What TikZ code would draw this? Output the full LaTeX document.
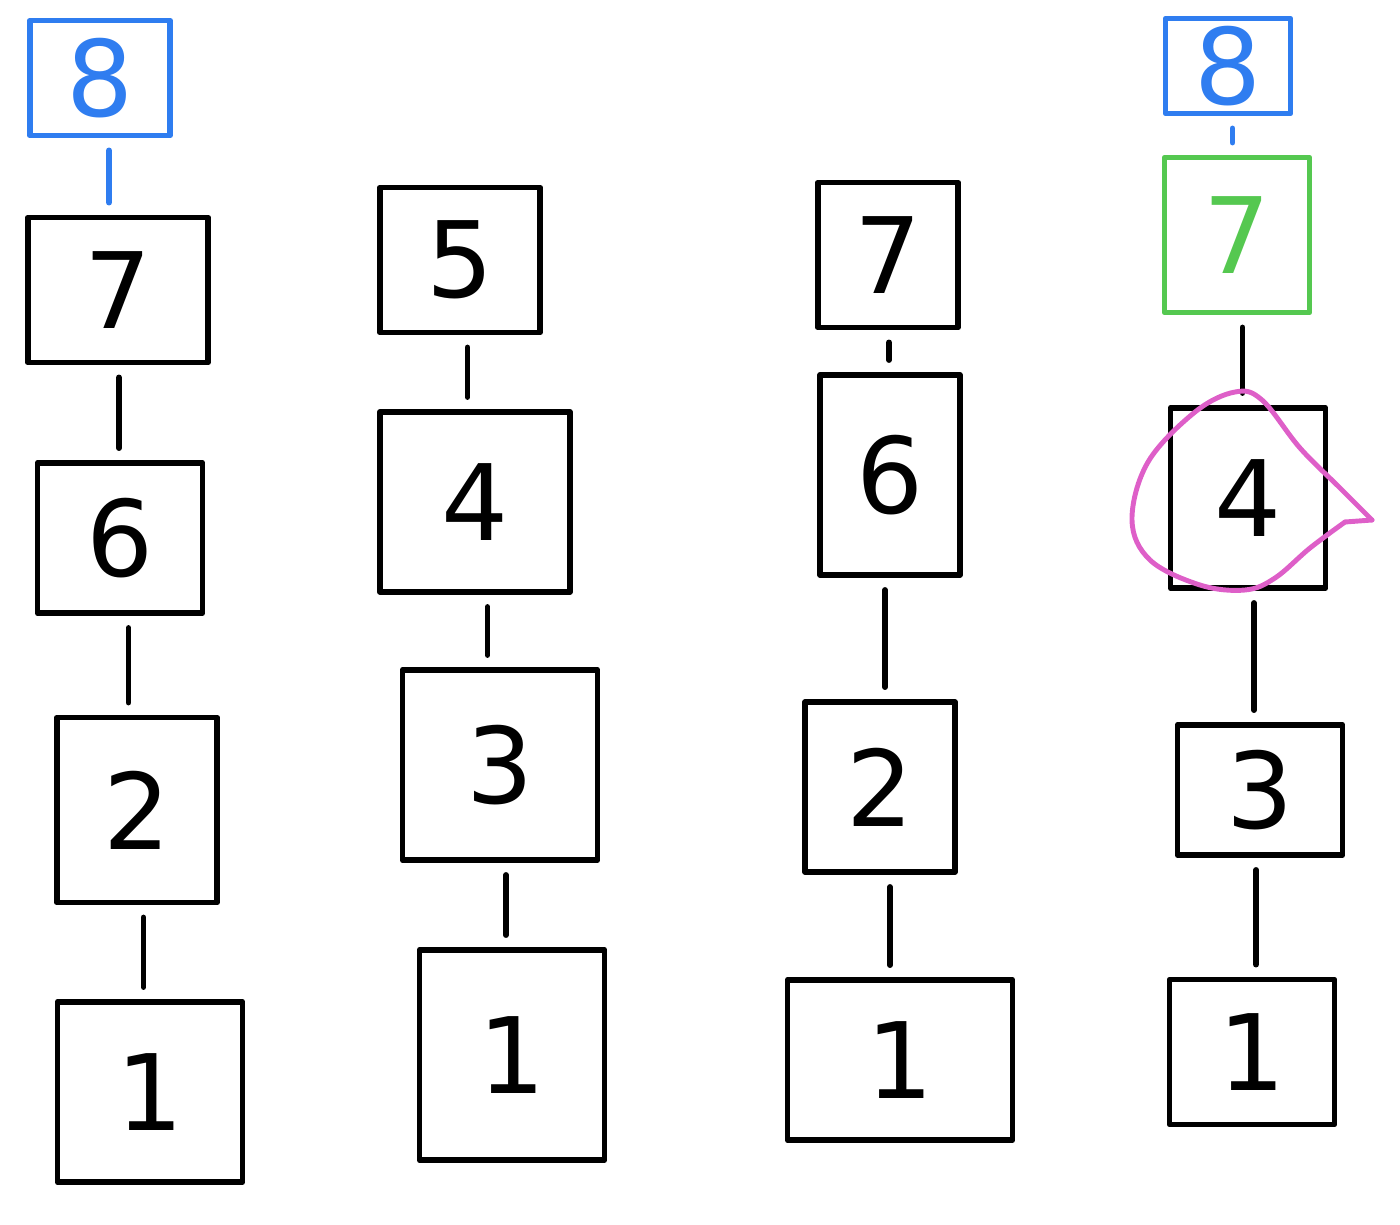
\documentclass[tikz,border=0pt]{standalone}
\usepackage{fontspec}
\setmainfont{DejaVu Sans}
\usetikzlibrary{positioning, calc}
\definecolor{penblue}{RGB}{47,125,240}
\definecolor{pengreen}{RGB}{85,200,80}
\definecolor{penpink}{RGB}{222,95,200}

\begin{document}
\begin{tikzpicture}[
    x=0.01cm, y=-0.01cm,
    box/.style={draw, rectangle, line width=1.6pt, line join=round, inner sep=0pt, font=\fontsize{30}{30}\selectfont},
    link/.style={line width=1.6pt, line cap=round, shorten <=0.12cm, shorten >=0.12cm},
    ring/.style={draw=penpink, line width=1.4pt, line cap=round, line join=round}
]
\useasboundingbox (0,0) rectangle (1400,1224);

% First column
\node[box, draw=penblue, text=penblue, minimum width=1.4cm, minimum height=1.15cm] (a8) at (100,78) {8};
\node[box, minimum width=1.8cm, minimum height=1.45cm] (a7) at (118,290) {7};
\node[box, minimum width=1.65cm, minimum height=1.5cm] (a6) at (120,538) {6};
\node[box, minimum width=1.6cm, minimum height=1.85cm] (a2) at (137,810) {2};
\node[box, minimum width=1.85cm, minimum height=1.8cm] (a1) at (150,1092) {1};

% Second column
\node[box, minimum width=1.6cm, minimum height=1.45cm] (b5) at (460,260) {5};
\node[box, minimum width=1.9cm, minimum height=1.8cm] (b4) at (475,502) {4};
\node[box, minimum width=1.95cm, minimum height=1.9cm] (b3) at (500,765) {3};
\node[box, minimum width=1.85cm, minimum height=2.1cm] (b1) at (512,1055) {1};

% Third column
\node[box, minimum width=1.4cm, minimum height=1.45cm] (c7) at (888,255) {7};
\node[box, minimum width=1.4cm, minimum height=2.0cm] (c6) at (890,475) {6};
\node[box, minimum width=1.5cm, minimum height=1.7cm] (c2) at (880,787) {2};
\node[box, minimum width=2.25cm, minimum height=1.6cm] (c1) at (900,1060) {1};

% Fourth column
\node[box, draw=penblue, text=penblue, minimum width=1.25cm, minimum height=0.95cm] (d8) at (1228,66) {8};
\node[box, draw=pengreen, text=pengreen, minimum width=1.45cm, minimum height=1.55cm] (d7) at (1237,235) {7};
\node[box, minimum width=1.55cm, minimum height=1.8cm] (d4) at (1248,498) {4};
\node[box, minimum width=1.65cm, minimum height=1.3cm] (d3) at (1260,790) {3};
\node[box, minimum width=1.65cm, minimum height=1.45cm] (d1) at (1252,1052) {1};

% Links (upright, half way between the two boxes)
\foreach \u/\v/\c in {a8/a7/penblue, a7/a6/black, a6/a2/black, a2/a1/black,
                      b5/b4/black, b4/b3/black, b3/b1/black,
                      c7/c6/black, c6/c2/black, c2/c1/black,
                      d8/d7/penblue, d7/d4/black, d4/d3/black, d3/d1/black} {
  \coordinate (mid) at ($(\u.south)!.5!(\v.north)$);
  \draw[link, \c] (mid |- \u.south) -- (mid |- \v.north);
}

% Pink loop round the 4
\draw[ring] plot[smooth, tension=0.6] coordinates {(1345,522) (1310,548) (1275,578) (1245,590) (1200,585) (1150,560) (1132,520) (1148,462) (1195,412) (1235,392) (1262,400) (1300,448) (1340,488) (1372,520)};
\draw[ring] (1372,520) -- (1345,522);

\end{tikzpicture}
\end{document}
